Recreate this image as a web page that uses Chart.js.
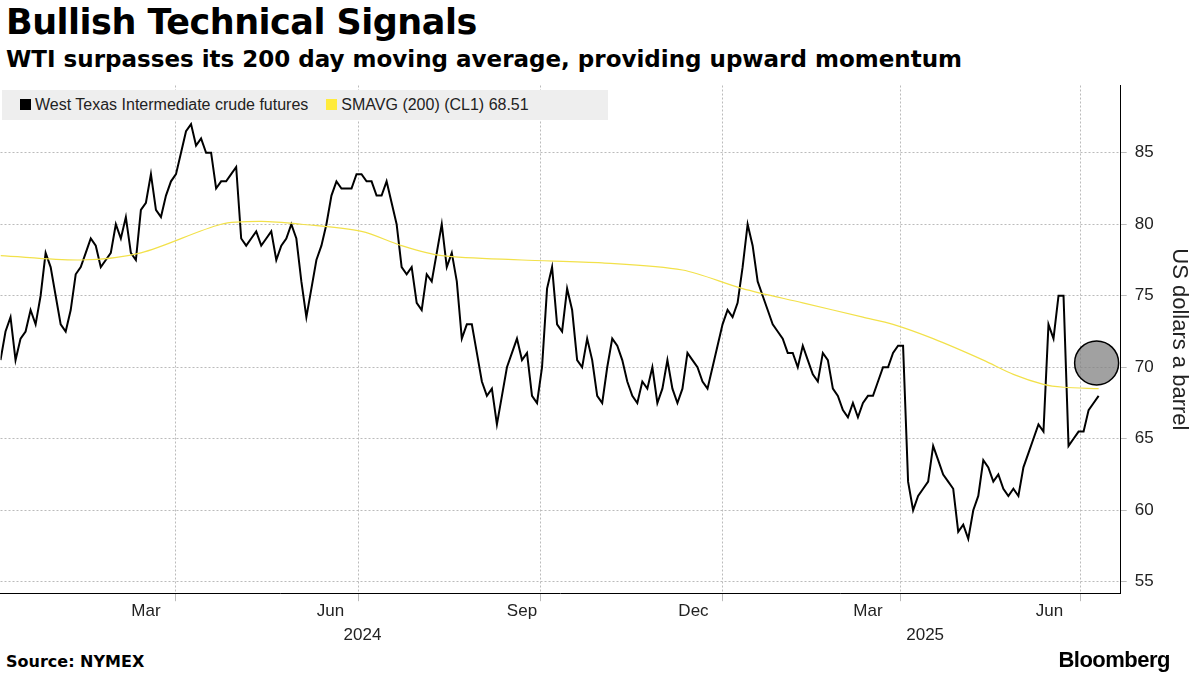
<!DOCTYPE html>
<html><head><meta charset="utf-8">
<script src="https://cdn.jsdelivr.net/npm/chart.js@4/dist/chart.umd.min.js"></script>
<style>
body{margin:0;width:1200px;height:675px;background:#fff;font-family:"Liberation Sans",Arial,sans-serif;position:relative;overflow:hidden}
#t{position:absolute;left:6px;top:2px;font-size:35px;font-weight:bold;font-family:"DejaVu Sans";letter-spacing:-0.5px}
#s{position:absolute;left:6px;top:46px;font-size:23px;font-weight:bold;font-family:"DejaVu Sans"}
#wrap{position:absolute;left:-23px;top:62px;width:1223px;height:588px}
#leg{position:absolute;left:2px;top:90px;height:30px;width:606px;background:#eee;font-size:16px;line-height:30px;color:#222}
#src{position:absolute;left:6px;bottom:4px;font-size:16px;font-weight:bold;font-family:"DejaVu Sans"}
#bb{position:absolute;right:30px;bottom:2px;font-size:22px;font-weight:bold;letter-spacing:-0.5px}
</style></head><body>
<div id="t">Bullish Technical Signals</div>
<div id="s">WTI surpasses its 200 day moving average, providing upward momentum</div>
<div id="wrap"><canvas id="c"></canvas></div>
<div id="leg"><span style="display:inline-block;width:11px;height:11px;background:#000;margin:0 4px 0 18px"></span>West Texas Intermediate crude futures<span style="display:inline-block;width:11px;height:11px;background:#ffeb3b;margin:0 4px 0 18px"></span>SMAVG (200) (CL1) 68.51</div>
<div id="src">Source: NYMEX</div>
<div id="bb">Bloomberg</div>
<script>
// x positions are in the chart's own day-like units (0 = first observation)
const wtiX = [];
for (let i = 0; i <= 1095; i += 5) wtiX.push(i);
const wtiValues = [70.5,72.5,73.5,70.5,72,72.5,74,73,75,78,77,75,73,72.5,74,76.5,77,78,79,78.5,77,77.5,78,80,79,80.5,78,77.5,81,81.5,83.5,81,80.5,82,83,83.5,85,86.5,87,85.5,86,85,85,82.5,83,83,83.5,84,79,78.5,79,79.5,78.5,79,79.5,77.5,78.5,79,80,79,76,73.5,75.5,77.5,78.5,80,82,83,82.5,82.5,82.5,83.5,83.5,83,83,82,82,83,81.5,80,77,76.5,77,74.5,74,76.5,76,78,80,77,78,76,72,73,73,71,69,68,68.5,66,68,70,71,72,70.5,71,68,67.5,70,75.5,77,73,72.5,75.5,74,70.5,70,72,70.5,68,67.5,70,72,71.5,70.5,69,68,67.5,69,68.5,70,67.5,68.5,70.5,68.5,67.5,68.5,71,70.5,70,69,68.5,70,71.5,73,74,73.5,74.5,77,80,78.5,76,75,74,73,72.5,72,71,71,70,71.5,70.5,69.5,69,71,70.5,68.5,68,67,66.5,67.5,66.5,67.5,68,68,69,70,70,71,71.5,71.5,62,60,61,61.5,62,64.5,63.5,62.5,62,61.5,58.5,59,58,60,61,63.5,63,62,62.5,61.5,61,61.5,61,63,64,65,66,65.5,73,72,75,75,64.5,65,65.5,65.5,67,67.5,68];
const smaX = [0,80,140,220,260,300,360,400,440,520,600,680,740,800,860,890,930,980,1010,1040,1060,1095];
const smaValues = [77.8,77.5,78,80,80.2,80,79.5,78.5,77.8,77.5,77.3,76.8,75.5,74.5,73.5,73,72,70.5,69.5,68.8,68.6,68.5];
const tickX = [175,357,538,720,897,1077];
const monthLabelX = [145,329,520,691,865,1046];
const monthLabels = ['Mar','Jun','Sep','Dec','Mar','Jun'];
const yearLabelX = [361,922];
const yearLabels = ['2024','2025'];
const yTicks = [55,60,65,70,75,80,85];

const axisLabels = {
  id: 'axisLabels',
  afterDraw(ch) {
    const c = ch.ctx, xs = ch.scales.x, top = xs.top;
    c.save();
    c.fillStyle = '#222';
    c.font = '17px "Liberation Sans"';
    c.textAlign = 'center';
    c.textBaseline = 'top';
    monthLabels.forEach((l, i) => c.fillText(l, xs.getPixelForValue(monthLabelX[i]), top + 10));
    yearLabels.forEach((l, i) => c.fillText(l, xs.getPixelForValue(yearLabelX[i]), top + 34));
    c.restore();
  }
};

new Chart(document.getElementById('c'), {
  type: 'line',
  data: { datasets: [
    { data: [{x:1093,y:70.3}], type:'scatter', pointRadius:22, pointBackgroundColor:'rgba(130,130,130,0.75)', pointBorderColor:'#000', pointBorderWidth:1.5 },
    { data: smaX.map((x,i)=>({x, y: smaValues[i]})), borderColor:'#f2e14a', borderWidth:1.2, pointRadius:0, tension:0.3 },
    { data: wtiX.map((x,i)=>({x, y: wtiValues[i]})), borderColor:'#000', borderWidth:2, pointRadius:0 }
  ]},
  options: {
    responsive:true, maintainAspectRatio:false, animation:false,
    layout:{padding:{left:0,right:4,top:0,bottom:0}},
    plugins:{legend:{display:false}, tooltip:{enabled:false}},
    scales:{
      x:{ type:'linear', min:0, max:1117,
        afterBuildTicks: a => { a.ticks = tickX.map(v=>({value:v})); },
        ticks:{ callback:()=>['',''], font:{size:17}, maxRotation:0, padding:4 },
        grid:{ color:'#bbb', tickLength:8 }, border:{display:true,color:'#000', dash:[2,2]} },
      y:{ position:'right', min:54.2, max:89.7,
        afterBuildTicks: a => { a.ticks = yTicks.map(v=>({value:v})); },
        ticks:{ color:'#222', font:{size:17, family:'Liberation Sans'}, padding:8 },
        grid:{ color:'#bbb', tickLength:6 }, border:{color:'#000', dash:[2,2]},
        title:{ display:true, text:'US dollars a barrel', color:'#222', font:{size:22, family:'Liberation Sans'} } }
    }
  },
  plugins:[axisLabels]
});
</script>
</body></html>
